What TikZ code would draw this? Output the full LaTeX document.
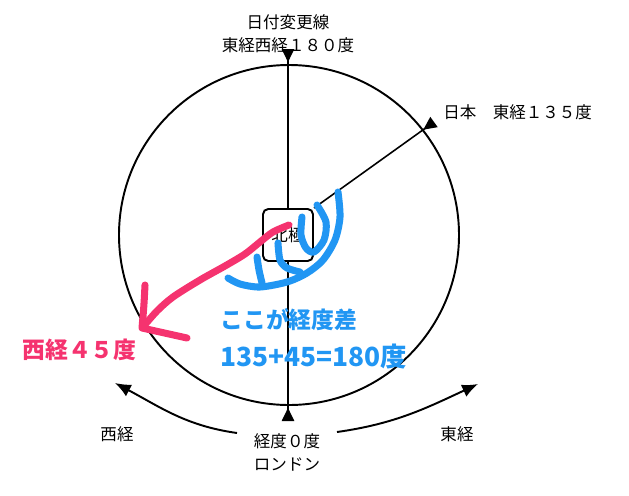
\documentclass[tikz,border=0pt]{standalone}
\usepackage{fontspec}
\newfontfamily\jp{Noto Sans CJK JP}
\usetikzlibrary{arrows.meta, positioning}
\definecolor{penblue}{HTML}{2196F3}
\definecolor{penpink}{HTML}{F5336F}
\tikzset{
  lbl/.style={font=\jp\fontsize{9.4}{13}\selectfont, align=center, inner sep=0pt},
  big/.style={font=\jp\bfseries\fontsize{13}{18}\selectfont, inner sep=0pt, anchor=west},
  meridian/.style={line width=0.9pt, -{Triangle[reversed, length=7.5pt, width=7pt]}},
  turn/.style={line width=1.1pt, -{Latex[length=9pt, width=7.5pt]}},
  pen/.style={line width=4pt, line cap=round, line join=round},
}

\begin{document}
\begin{tikzpicture}[x=0.02cm, y=0.02cm]
\useasboundingbox (0,0) rectangle (629,495);
\draw[line width=1.1pt] (289,260) circle (170);
\node[lbl, draw, line width=1.1pt, rounded corners=3pt, fill=white, minimum width=1cm, minimum height=1.04cm] (pole) at (288,260) {北極};
% meridians out of the pole
\coordinate (top) at (288,446);
\coordinate (bottom) at (288,74);
\coordinate (japan) at (434,373);
\draw[meridian] (pole.north) -- (top);
\draw[meridian] (pole.south) -- (bottom);
\draw[meridian] (pole.north east) -- (japan);
\node[lbl] (dateline) at (288,461) {日付変更線\\東経西経１８０度};
\node[lbl, anchor=west] (jpn) at (443,383) {日本　東経１３５度};
\node[lbl] (lon0) at (287,43) {経度０度\\ロンドン};
\node[lbl] (west) at (117,61) {西経};
\node[lbl] (east) at (457,61) {東経};
\coordinate (wstart) at (237,62);
\coordinate (wend) at (115,112);
\coordinate (estart) at (337,63);
\coordinate (eend) at (478,111);
\draw[turn] (wstart) to[out=172, in=-28] (wend);
\draw[turn] (estart) to[out=8, in=-155] (eend);
% hand written marks
\draw[pen, penblue] plot[smooth] coordinates {(338,303) (340,278) (335,255) (323,235) (307,222) (287,213) (260,208) (240,211) (228,217)};
\draw[pen, penblue] plot[smooth] coordinates {(302,278) (301,260) (306,247) (314,243) (324,255) (326,273) (317,290)};
\draw[pen, penblue] plot[smooth] coordinates {(278,252) (280,235) (287,227) (300,223)};
\draw[pen, penblue] plot[smooth] coordinates {(257,238) (259,225) (262,212)};
\draw[pen, penpink] plot[smooth] coordinates {(289,270) (273,263) (260,253) (245,241) (225,229) (200,215) (173,198) (157,184) (143,168)};
\draw[pen, penpink] (145,210) .. controls (144,190) .. (142,167) .. controls (160,163) .. (187,157);
\node[big, penblue] (diff) at (220,175) {ここが経度差};
\node[big, penblue, font=\jp\bfseries\fontsize{15}{18}\selectfont] (sum) at (220,138) {135+45=180度};
\node[big, penpink] (w45) at (22,145) {西経４５度};
\end{tikzpicture}
\end{document}
